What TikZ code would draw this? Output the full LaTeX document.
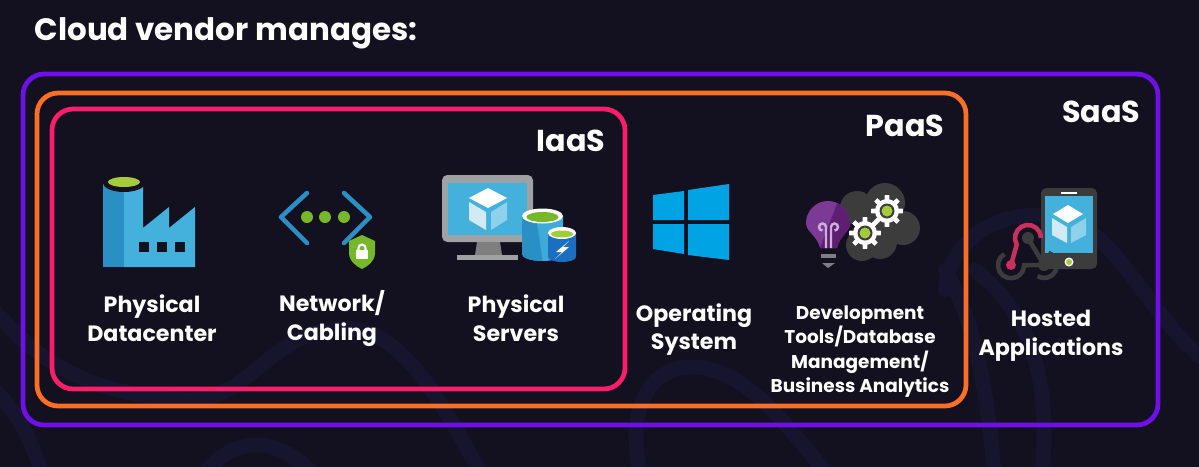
\documentclass[tikz,border=0pt]{standalone}
\usepackage{fontspec}
\setmainfont{Poppins}
\usepackage{tikz}
\usetikzlibrary{positioning,arrows.meta,calc}
\definecolor{night}{HTML}{13101F}
\definecolor{swirl}{HTML}{17142D}
\definecolor{saasline}{HTML}{6F10E8}
\definecolor{paasline}{HTML}{FA6E25}
\definecolor{iaasline}{HTML}{FA1E68}
\definecolor{azure}{HTML}{44B0DC}
\definecolor{azuredark}{HTML}{2A8FC4}
\definecolor{leaf}{HTML}{A4CC3A}
\definecolor{leafdark}{HTML}{76B82A}
\definecolor{steel}{HTML}{A0A1A3}
\definecolor{steeldark}{HTML}{7F7F7F}
\definecolor{coal}{HTML}{3C3C3C}
\definecolor{winblue}{HTML}{00A4E4}
\definecolor{bulblight}{HTML}{7B3A96}
\definecolor{bulbdark}{HTML}{5E1F73}
\definecolor{filament}{HTML}{CDB0DA}
\definecolor{hookpink}{HTML}{C8305F}
\definecolor{drumblue}{HTML}{1A6FC0}
\tikzset{
  groupbox/.style={line width=1.35pt, rounded corners=6pt},
  grouptitle/.style={font=\fontsize{8.6}{10}\selectfont\bfseries, text=white, anchor=east, inner sep=0pt},
  itemlabel/.style={font=\fontsize{6.3}{8.2}\selectfont\bfseries, text=white, align=center, inner sep=0pt},
  swirlline/.style={swirl, line width=4.2pt, line cap=round}
}
\begin{document}
\begin{tikzpicture}[x=0.01cm,y=-0.01cm]
        \useasboundingbox (0,0) rectangle (1199,466);
        \fill[night] (-5,-5) rectangle (1204,471);
        % Faint background swirls
        \draw[swirlline] (-10,305) .. controls (40,365) and (90,395) .. (190,400) .. controls (250,400) and (270,330) .. (345,328) .. controls (410,330) and (450,420) .. (490,490);
        \draw[swirlline] (-5,390) .. controls (15,410) and (35,440) .. (45,490);
        \draw[swirlline] (195,490) .. controls (225,430) and (285,430) .. (325,490);
        \draw[swirlline] (645,490) .. controls (620,410) and (650,365) .. (695,367) .. controls (750,370) and (790,430) .. (840,490);
        \draw[swirlline] (945,270) .. controls (975,320) and (990,400) .. (995,490);
        \draw[swirlline] (1040,490) .. controls (1052,400) and (1040,320) .. (975,270);
        \draw[swirlline] (945,290) .. controls (950,240) and (1000,205) .. (1060,218) .. controls (1120,228) and (1160,340) .. (1215,365);
        % Group frames
        \draw[groupbox, saasline] (23,74) rectangle (1158,425);
        \draw[groupbox, paasline] (37,93) rectangle (966,406);
        \draw[groupbox, iaasline] (52,109) rectangle (625,389);
        % Title and group names
        \node[font=\fontsize{8.8}{11}\selectfont\bfseries, text=white, anchor=west, inner sep=0pt] (title) at (34,33) {Cloud vendor manages:};
        \node[grouptitle] (saas) at (1141,112) {SaaS};
        \node[grouptitle] (paas) at (945,126) {PaaS};
        \node[grouptitle] (iaas) at (606,141) {IaaS};
        % Factory icon
        \fill[azure] (124,183) -- (143,183) -- (143,228) -- (169,207) -- (169,228) -- (195,207) -- (195,267) -- (124,267) -- cycle;
        \fill[azuredark] (103,183) rectangle (124,267);
        \fill[night] (124,183) ellipse (21 and 9);
        \fill[leaf] (124,182) ellipse (16 and 5);
        \foreach \x in {139,157,175}
          \fill[night] (\x,242) rectangle (\x+10,252);
        % Network icon
        \draw[azuredark, line width=1.3pt, line cap=round, line join=round] (307,193) -- (281,217) -- (307,243);
        \draw[azuredark, line width=1.3pt, line cap=round, line join=round] (344,193) -- (370,217) -- (344,243);
        \foreach \x in {307,325,344}
          \fill[leafdark] (\x,217) circle (6);
        \fill[leafdark] (362,235) -- (375,241) -- (375,254) .. controls (374,262) and (368,266) .. (362,269) .. controls (356,266) and (350,262) .. (349,254) -- (349,241) -- cycle;
        \fill[white] (356,250) rectangle (368,259);
        \draw[white, line width=0.6pt] (358.5,251) -- (358.5,248) arc (180:360:3.5) -- (365.5,251);
        % Server icon
        \fill[steel, rounded corners=1.5pt] (442,175) rectangle (533,242);
        \fill[azure] (448,183) rectangle (527,235);
        \fill[steeldark] (477,242) -- (500,242) -- (502,255) -- (475,255) -- cycle;
        \fill[steel] (457,255) rectangle (518,260);
        \fill[white] (488,188) -- (507,198) -- (488,208) -- (469,198) -- cycle;
        \fill[white!75!azure] (469,202) -- (486,212) -- (486,230) -- (469,220) -- cycle;
        \fill[white!40!azure] (507,202) -- (491,212) -- (491,230) -- (507,220) -- cycle;
        \fill[azure!80!azuredark] (522,216) -- (522,254) arc (180:0:20.5 and 7) -- (563,216) -- cycle;
        \fill[azuredark] (522,216) -- (522,254) arc (180:90:20.5 and 7) -- (536,216) -- cycle;
        \fill[white] (542.5,216) ellipse (20.5 and 7.5);
        \fill[leafdark] (542.5,217) ellipse (16 and 5);
        \fill[drumblue] (548,233) -- (548,257) arc (180:0:14 and 5) -- (576,233) -- cycle;
        \fill[white] (562,233) ellipse (14 and 6);
        \fill[leaf] (562,234) ellipse (11 and 3.5);
        \fill[white] (569,241) -- (556,252) -- (562,252) -- (555,259) -- (569,247) -- (563,247) -- cycle;
        % Windows icon
        \fill[winblue] (653,195) -- (684,191) -- (684,220) -- (653,220) -- cycle;
        \fill[winblue] (688,190) -- (729,184) -- (729,220) -- (688,220) -- cycle;
        \fill[winblue] (653,224) -- (684,224) -- (684,254) -- (653,249) -- cycle;
        \fill[winblue] (688,224) -- (729,224) -- (729,260) -- (688,255) -- cycle;
        % Cloud with gears
        \foreach \x/\y/\r in {857/208/17,885/203/20,903/228/17,880/242/17,862/245/16,882/223/23}
          \fill[coal] (\x,\y) circle (\r);
        % Bulb
        \fill[bulblight] (820,248) .. controls (817,235) and (806,232) .. (806,223) arc (180:360:22) .. controls (850,232) and (840,235) .. (837,248) -- cycle;
        \fill[bulbdark] (820,248) -- (837.3,203) arc (-65:0:22) .. controls (850,232) and (840,235) .. (837,248) -- cycle;
        \draw[filament, line width=0.7pt] (826,248) -- (826,227) arc (0:-270:3.5);
        \draw[filament, line width=0.7pt] (831,248) -- (831,227) arc (180:450:3.5);
        \fill[steeldark] (821,254) rectangle (836,258);
        \fill[steeldark] (822,263) -- (835,263) -- (828,268) -- cycle;
        % Gears on top
        \foreach \x/\y in {865/233,887/211} {
          \foreach \a in {0,45,...,315}
            \fill[white] ($(\x,\y)+(\a-13:11)$) -- ($(\x,\y)+(\a-8:16)$) -- ($(\x,\y)+(\a+8:16)$) -- ($(\x,\y)+(\a+13:11)$) -- cycle;
          \fill[white] (\x,\y) circle (12);
          \fill[coal] (\x,\y) circle (7.5);
          \fill[leaf] (\x,\y) circle (5.5);
        }
        % Phone icon
        \fill[coal, rounded corners=1.5pt] (1041,188) rectangle (1097,269);
        \fill[azure] (1045,196) rectangle (1093,253);
        \fill[white] (1061,191.5) rectangle (1077,193.5);
        \fill[white] (1069,262) circle (4.5);
        \fill[leaf] (1069,262) circle (3);
        \fill[white] (1068,205) -- (1083,214) -- (1068,223) -- (1053,214) -- cycle;
        \fill[white!75!azure] (1052,218) -- (1067,227) -- (1067,243) -- (1052,235) -- cycle;
        \fill[white!40!azure] (1086,218) -- (1071,227) -- (1071,243) -- (1086,235) -- cycle;
        % Webhook symbol
        \draw[coal, line width=1.3pt] (1028,238) -- (1044,265);
        \draw[coal, line width=1.3pt] (1004.5,254) arc (240:0:13) -- (1044,265);
        \draw[coal, line width=1.3pt] (1037.5,276.3) arc (120:-70:13);
        \fill[coal] (1028,238) circle (6);
        \fill[coal] (1044,265) circle (6);
        \draw[hookpink, line width=1.3pt] (1011,265) -- (1016.7,244.5) arc (150:360:13);
        \fill[hookpink] (1011,265) circle (5);
        % Item labels
        \node[itemlabel] (datacenter) at (152,318.5) {Physical\\Datacenter};
        \node[itemlabel] (cabling) at (332,318.5) {Network/\\Cabling};
        \node[itemlabel] (servers) at (516,318.5) {Physical\\Servers};
        \node[itemlabel] (os) at (694,329.5) {Operating\\System};
        \node[itemlabel, font=\fontsize{5.25}{6.95}\selectfont\bfseries] (devtools) at (860,351.5) {Development\\Tools/Database\\Management/\\Business Analytics};
        \node[itemlabel] (hosted) at (1051,336) {Hosted\\Applications};
      \end{tikzpicture}
\end{document}
